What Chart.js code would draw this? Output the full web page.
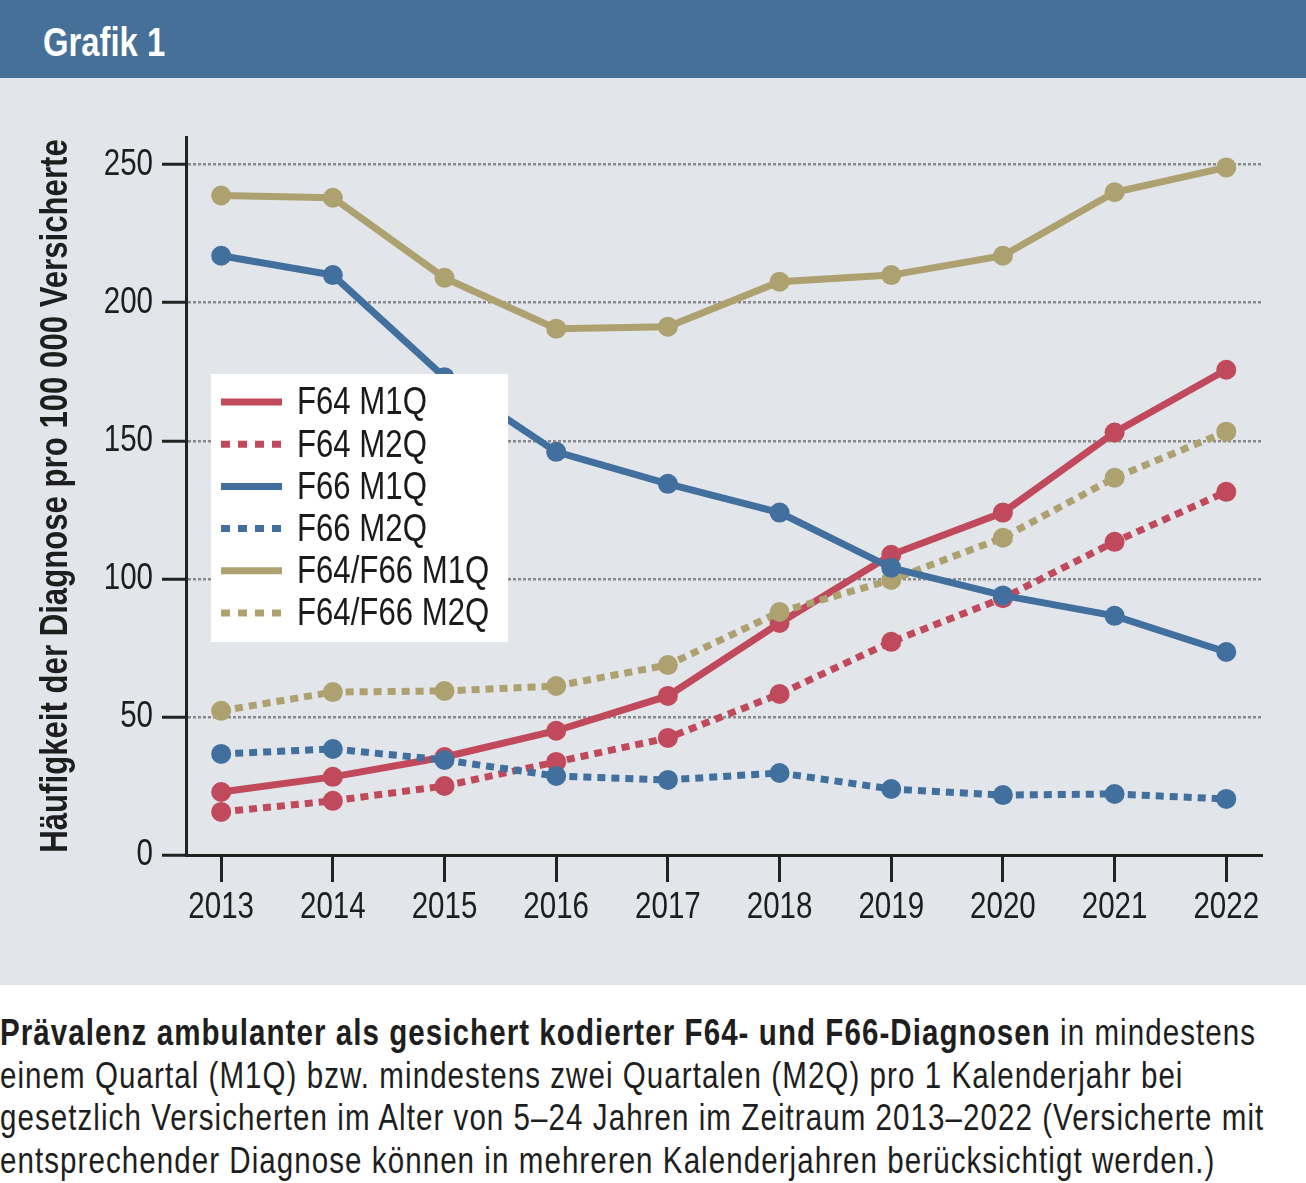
<!DOCTYPE html>
<html>
<head>
<meta charset="utf-8">
<script src="https://cdn.jsdelivr.net/npm/chart.js@4"></script>
<style>
  body { margin: 0; width: 1306px; height: 1183px; background: #fff; overflow: hidden;
         font-family: "Liberation Sans", Arial, sans-serif; }
  .narrow { display: inline-block; transform: scaleX(0.82); transform-origin: 0 0; white-space: nowrap; }
  #head { position: absolute; left: 0; top: 0; width: 1306px; height: 78px; background: #467098; }
  #head span { position: absolute; left: 43px; top: 19px; color: #fff; font-weight: bold; font-size: 40px; line-height: 46px; }
  #panel { position: absolute; left: 0; top: 78px; width: 1306px; height: 907px; background: #e2e5ea; }
  #caption { position: absolute; left: 0; top: 1012px; font-size: 36px; line-height: 42.5px; letter-spacing: 1.3px; color: #1e1e1e; }
</style>
</head>
<body>
<div id="head"><span class="narrow">Grafik 1</span></div>
<div id="panel"><canvas id="myChart" width="1306" height="907"></canvas></div>
<div id="caption" class="narrow"><b>Prävalenz ambulanter als gesichert kodierter F64- und F66-Diagnosen</b> in mindestens<br>einem Quartal (M1Q) bzw. mindestens zwei Quartalen (M2Q) pro 1 Kalenderjahr bei<br>gesetzlich Versicherten im Alter von 5–24 Jahren im Zeitraum 2013–2022 (Versicherte mit<br>entsprechender Diagnose können in mehreren Kalenderjahren berücksichtigt werden.)</div>
<script>
var years = [2013, 2014, 2015, 2016, 2017, 2018, 2019, 2020, 2021, 2022];
var yTicks = [0, 50, 100, 150, 200, 250];

var f64M1Q = [22.8, 28.3, 35.5, 45, 57.6, 84, 108.7, 124, 153, 175.7];
var f64M2Q = [15.6, 19.6, 25, 33.7, 42.4, 58.3, 77.2, 93, 113.4, 131.5];
var f66M1Q = [217, 210, 173, 146, 134.4, 124, 104, 94, 86.6, 73.5];
var f66M2Q = [36.6, 38.4, 34.4, 28.6, 27.2, 29.7, 23.9, 21.7, 22.1, 20.3];
var bothM1Q = [238.8, 238, 209, 190.6, 191.3, 207.6, 210, 217, 240, 249];
var bothM2Q = [52.2, 59, 59.4, 61.2, 68.8, 88, 99.6, 114.9, 136.6, 153.3];

var RED = '#c04a5b', BLUE = '#41709e', OLIVE = '#ada170';
var FONT = '"Liberation Sans", Arial, sans-serif';
var NARROW = 0.82; // no narrow face installed, squeeze the text instead

function series(label, values, color, dotted, order) {
    return {
        label: label,
        data: values.map(function (v, i) { return { x: years[i], y: v }; }),
        borderColor: color,
        backgroundColor: color,
        pointBackgroundColor: color,
        borderWidth: 7,
        borderDash: dotted ? [8, 6] : [],
        borderCapStyle: 'butt',
        pointRadius: 10,
        pointHoverRadius: 10,
        pointBorderWidth: 0,
        tension: 0,
        order: order
    };
}

// legend box drawn inside the plot, from the datasets
var boxLegend = {
    id: 'boxLegend',
    afterDraw: function (chart) {
        var ctx = chart.ctx;
        ctx.save();
        ctx.fillStyle = '#ffffff';
        ctx.fillRect(211, 296, 297, 268);
        ctx.font = '38px ' + FONT;
        ctx.textBaseline = 'middle';
        ctx.textAlign = 'left';
        chart.data.datasets.forEach(function (ds, i) {
            var y = 324 + i * 42.2;
            ctx.strokeStyle = ds.borderColor;
            ctx.lineWidth = 7;
            ctx.lineCap = 'butt';
            ctx.setLineDash(ds.borderDash.length ? [9, 8] : []);
            ctx.beginPath();
            ctx.moveTo(221, y);
            ctx.lineTo(282, y);
            ctx.stroke();
            ctx.setLineDash([]);
            ctx.fillStyle = '#1a1a1a';
            ctx.fillText(ds.label, 297, y + 2);
        });
        ctx.restore();
    }
};

document.addEventListener('DOMContentLoaded', function () {
    var ctx = document.getElementById('myChart').getContext('2d');
    var rawFillText = CanvasRenderingContext2D.prototype.fillText;
    ctx.fillText = function (text, x, y) {
        this.save();
        this.translate(x, y);
        this.scale(NARROW, 1);
        rawFillText.call(this, text, 0, 0);
        this.restore();
    };

    var myChart = new Chart(ctx, {
        type: 'line',
        data: {
            datasets: [
                series('F64 M1Q', f64M1Q, RED, false, 3),
                series('F64 M2Q', f64M2Q, RED, true, 4),
                series('F66 M1Q', f66M1Q, BLUE, false, 0),
                series('F66 M2Q', f66M2Q, BLUE, true, 1),
                series('F64/F66 M1Q', bothM1Q, OLIVE, false, 5),
                series('F64/F66 M2Q', bothM2Q, OLIVE, true, 2)
            ]
        },
        plugins: [boxLegend],
        options: {
            responsive: false,
            animation: false,
            layout: { padding: { top: 59, right: 44, left: 0, bottom: 0 } },
            plugins: {
                legend: { display: false },
                tooltip: { enabled: false }
            },
            scales: {
                x: {
                    type: 'linear',
                    min: 2012.685,
                    max: 2022.32,
                    afterBuildTicks: function (axis) {
                        axis.ticks = years.map(function (y) { return { value: y }; });
                    },
                    afterFit: function (axis) { axis.height = 130; },
                    ticks: {
                        callback: function (v) { return String(v); },
                        font: { family: FONT, size: 36 },
                        color: '#1e1e1e',
                        padding: 4,
                        maxRotation: 0,
                        autoSkip: false
                    },
                    grid: {
                        drawOnChartArea: false,
                        drawTicks: true,
                        tickLength: 27,
                        tickWidth: 3,
                        tickColor: '#222'
                    },
                    border: { display: true, color: '#222', width: 3 }
                },
                y: {
                    min: 0,
                    max: 260,
                    afterBuildTicks: function (axis) {
                        axis.ticks = yTicks.map(function (v) { return { value: v }; });
                    },
                    afterFit: function (axis) { axis.width = 186; },
                    ticks: {
                        font: { family: FONT, size: 36 },
                        color: '#1e1e1e',
                        padding: 9
                    },
                    grid: {
                        color: '#8a8a8a',
                        lineWidth: 2.5,
                        tickLength: 24,
                        tickWidth: 3,
                        tickColor: '#222',
                        tickBorderDash: []
                    },
                    border: { display: true, color: '#222', width: 3, dash: [3, 2] },
                    title: {
                        display: true,
                        text: 'Häufigkeit der Diagnose pro 100 000 Versicherte',
                        font: { family: FONT, size: 38, weight: 'bold' },
                        color: '#1e1e1e',
                        padding: { top: 34, bottom: 0 }
                    }
                }
            }
        }
    });
});
</script>
</body>
</html>
